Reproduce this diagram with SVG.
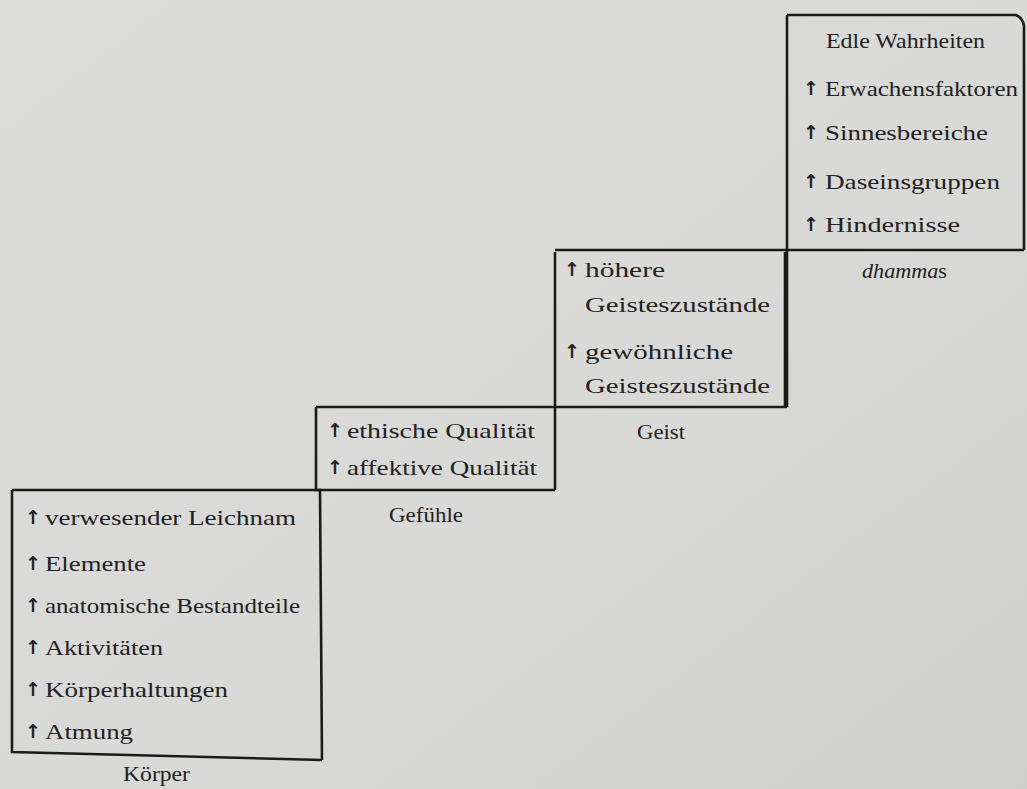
<svg xmlns="http://www.w3.org/2000/svg" width="1027" height="789" viewBox="0 0 1027 789">
<style>
.t{font-family:"Liberation Serif","DejaVu Serif",serif;font-size:22px;fill:#222}
.a{font-family:"DejaVu Sans","Liberation Sans",sans-serif;font-size:19px;fill:#222;font-weight:bold}
.ln{fill:none;stroke:#1a1a1a;stroke-width:2.6;stroke-linejoin:miter}
</style>
<defs>
<linearGradient id="bg" x1="0" y1="0" x2="1" y2="1">
<stop offset="0" stop-color="#dcdcda"/>
<stop offset="0.6" stop-color="#d8d8d6"/>
<stop offset="1" stop-color="#cfd0ce"/>
</linearGradient>
</defs>
<rect width="1027" height="789" fill="url(#bg)"/>
<g id="connectors">
<path class="ln" d="M787,15 L1016,15 Q1023,18 1024,26 L1024,250"/>
<path class="ln" d="M555,250 L1024,250"/>
<path class="ln" d="M787,15 L787,407"/>
<path class="ln" d="M555,252 L555,490"/>
<path class="ln" d="M785,252 L785,407"/>
<path class="ln" d="M316,407 L787,407"/>
<path class="ln" d="M316,407 L316,490 L320,490 L322,760"/>
<path class="ln" d="M12,490 L555,490"/>
<path class="ln" d="M12,490 L12,752 L322,760"/>
</g>
<g id="dhammas">
<text class="t" x="826" y="48" textLength="159" lengthAdjust="spacingAndGlyphs">Edle Wahrheiten</text>
<text class="a" x="803" y="95">↑</text>
<text class="t" x="825" y="96" textLength="193" lengthAdjust="spacingAndGlyphs">Erwachensfaktoren</text>
<text class="a" x="803" y="139">↑</text>
<text class="t" x="825" y="140" textLength="163" lengthAdjust="spacingAndGlyphs">Sinnesbereiche</text>
<text class="a" x="803" y="188">↑</text>
<text class="t" x="825" y="189" textLength="175" lengthAdjust="spacingAndGlyphs">Daseinsgruppen</text>
<text class="a" x="803" y="231">↑</text>
<text class="t" x="825" y="232" textLength="135" lengthAdjust="spacingAndGlyphs">Hindernisse</text>
<text class="t" x="862" y="278" textLength="85" lengthAdjust="spacingAndGlyphs"><tspan font-style="italic">dhamma</tspan>s</text>
</g>
<g id="geist">
<text class="a" x="564" y="276">↑</text>
<text class="t" x="585" y="277" textLength="80" lengthAdjust="spacingAndGlyphs">höhere</text>
<text class="t" x="585" y="312" textLength="185" lengthAdjust="spacingAndGlyphs">Geisteszustände</text>
<text class="a" x="564" y="358">↑</text>
<text class="t" x="585" y="359" textLength="148" lengthAdjust="spacingAndGlyphs">gewöhnliche</text>
<text class="t" x="585" y="393" textLength="185" lengthAdjust="spacingAndGlyphs">Geisteszustände</text>
<text class="t" x="637" y="439" textLength="48" lengthAdjust="spacingAndGlyphs">Geist</text>
</g>
<g id="gefuehle">
<text class="a" x="327" y="437">↑</text>
<text class="t" x="347" y="438" textLength="188" lengthAdjust="spacingAndGlyphs">ethische Qualität</text>
<text class="a" x="327" y="474">↑</text>
<text class="t" x="347" y="475" textLength="190" lengthAdjust="spacingAndGlyphs">affektive Qualität</text>
<text class="t" x="389" y="522" textLength="74" lengthAdjust="spacingAndGlyphs">Gefühle</text>
</g>
<g id="koerper">
<text class="a" x="25" y="524">↑</text>
<text class="t" x="45" y="525" textLength="251" lengthAdjust="spacingAndGlyphs">verwesender Leichnam</text>
<text class="a" x="25" y="570">↑</text>
<text class="t" x="45" y="571" textLength="101" lengthAdjust="spacingAndGlyphs">Elemente</text>
<text class="a" x="25" y="612">↑</text>
<text class="t" x="45" y="613" textLength="255" lengthAdjust="spacingAndGlyphs">anatomische Bestandteile</text>
<text class="a" x="25" y="654">↑</text>
<text class="t" x="45" y="655" textLength="118" lengthAdjust="spacingAndGlyphs">Aktivitäten</text>
<text class="a" x="25" y="696">↑</text>
<text class="t" x="45" y="697" textLength="183" lengthAdjust="spacingAndGlyphs">Körperhaltungen</text>
<text class="a" x="25" y="738">↑</text>
<text class="t" x="45" y="739" textLength="88" lengthAdjust="spacingAndGlyphs">Atmung</text>
<text class="t" x="123" y="781" textLength="67" lengthAdjust="spacingAndGlyphs">Körper</text>
</g>
</svg>
